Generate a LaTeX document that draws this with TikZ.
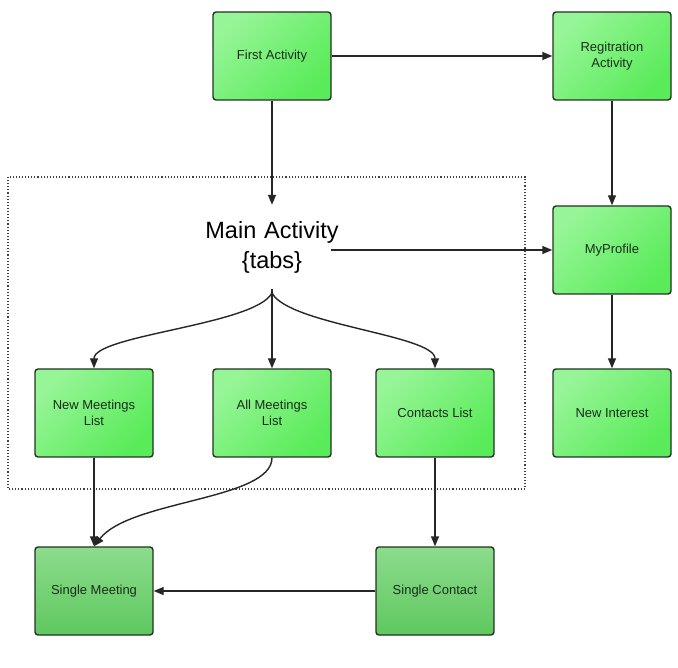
\documentclass[tikz,border=0pt]{standalone}
\usepackage{fontspec}
\setmainfont{Liberation Sans}
\usetikzlibrary{arrows.meta}
\definecolor{txt}{RGB}{25,45,25}
\definecolor{edge}{RGB}{35,50,35}
\definecolor{gA}{RGB}{150,245,150}
\definecolor{gB}{RGB}{90,235,90}
\definecolor{dA}{RGB}{140,220,140}
\definecolor{dB}{RGB}{95,200,95}
\tikzset{
  box/.style={draw=edge, line width=1.4pt, rounded corners=3pt,
    minimum width=118pt, minimum height=88pt, align=center,
    text=txt, font=\fontsize{13}{16}\selectfont,
    top color=gA, bottom color=gB, shading angle=45},
  darkbox/.style={box, top color=dA, bottom color=dB},
  conn/.style={line width=1.4pt, draw=black!85,
    -{Triangle[length=10pt,width=8pt]}},
  plain/.style={line width=1.4pt, draw=black!85},
}
\begin{document}
\begin{tikzpicture}[x=1pt,y=-1pt]
\useasboundingbox (0,0) rectangle (678,668);
\draw[dotted, line width=1.1pt, black!75] (8,177) rectangle (525,489);

\node[box] (fa) at (272,56) {First Activity};
\node[box] (ra) at (612,56) {Regitration\\Activity};
\node[box] (mp) at (612,250) {MyProfile};
\node[box] (ni) at (612,413) {New Interest};
\node[box] (nm) at (94,413) {New Meetings\\List};
\node[box] (am) at (272,413) {All Meetings\\List};
\node[box] (cl) at (435,413) {Contacts List};
\node[darkbox] (sm) at (94,591) {Single Meeting};
\node[darkbox] (sc) at (435,591) {Single Contact};

\node[align=center, text=black, font=\fontsize{23.5}{30}\selectfont,
  inner sep=0pt, minimum height=84pt, text width=150pt] (main) at (272,247) {Main Activity\\\{tabs\}};
\coordinate (fork) at (272,293);
\coordinate (mainout) at (331,250);

\draw[conn] (fa.south) -- (main.north);
\draw[conn] (fa.east) -- (ra.west);
\draw[conn] (ra.south) -- (mp.north);
\draw[conn] (mp.south) -- (ni.north);
\draw[conn] (mainout) -- (mp.west);
\draw[plain] (fork) -- ++(0,-4);
\draw[conn] (fork) .. controls (255,325) and (94,335) .. (nm.north);
\draw[conn] (fork) -- (am.north);
\draw[conn] (fork) .. controls (289,325) and (435,335) .. (cl.north);
\draw[conn] (nm.south) -- (sm.north);
\draw[conn] (am.south) .. controls (272,500) and (130,500) .. (sm.north);
\draw[conn] (cl.south) -- (sc.north);
\draw[conn] (sc.west) -- (sm.east);
\end{tikzpicture}
\end{document}
